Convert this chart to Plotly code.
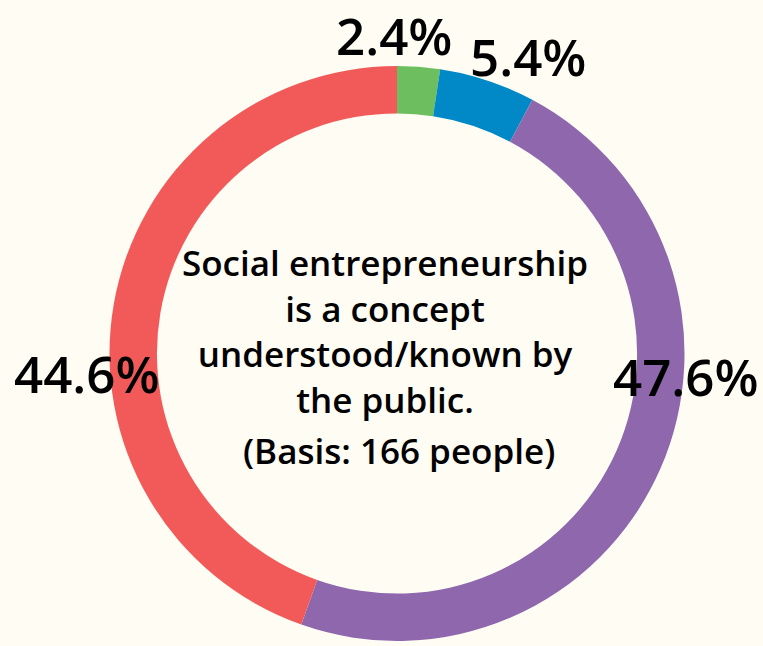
import plotly.graph_objects as go

# Survey answers, clockwise from 12 o'clock
answers = ["Strongly agree", "Agree", "Disagree", "Strongly disagree"]
shares = [2.4, 5.4, 47.6, 44.6]
colors = ["#6DBE5F", "#0089C6", "#8E67AD", "#F25A5A"]

# Where each percentage label sits (pixel centres on the 763x646 canvas)
label_px = [(394, 35), (528, 56), (686, 376), (87, 373)]

W, H = 763, 646
BG = "#FEFCF3"
FONT = "Open Sans"

fig = go.Figure(
    go.Pie(
        labels=answers,
        values=shares,
        marker=dict(colors=colors, line=dict(width=0)),
        hole=0.835,
        sort=False,
        direction="clockwise",
        rotation=0,
        textinfo="none",
        hoverinfo="label+percent",
        showlegend=False,
        domain=dict(x=[107 / W, 687 / W], y=[1 - 641 / H, 1 - 66 / H]),
    )
)

annotations = []
for v, (px, py) in zip(shares, label_px):
    annotations.append(
        dict(
            text=f"{v}%",
            x=px / W,
            y=1 - py / H,
            xref="paper",
            yref="paper",
            xanchor="center",
            yanchor="middle",
            showarrow=False,
            font=dict(family=FONT, size=51, color="#000000", weight=600),
        )
    )

annotations.append(
    dict(
        text="Social entrepreneurship<br>is a concept<br>understood/known by<br>the public.",
        x=385 / W,
        y=1 - 331 / H,
        xref="paper",
        yref="paper",
        xanchor="center",
        yanchor="middle",
        showarrow=False,
        align="center",
        font=dict(family=FONT, size=35, color="#000000", weight=600),
    )
)
annotations.append(
    dict(
        text="(Basis: 166 people)",
        x=399 / W,
        y=1 - 450 / H,
        xref="paper",
        yref="paper",
        xanchor="center",
        yanchor="middle",
        showarrow=False,
        font=dict(family=FONT, size=35, color="#000000", weight=600),
    )
)

fig.update_layout(
    width=W,
    height=H,
    margin=dict(l=0, r=0, t=0, b=0),
    paper_bgcolor=BG,
    plot_bgcolor=BG,
    annotations=annotations,
)

fig.write_html("out.html")
